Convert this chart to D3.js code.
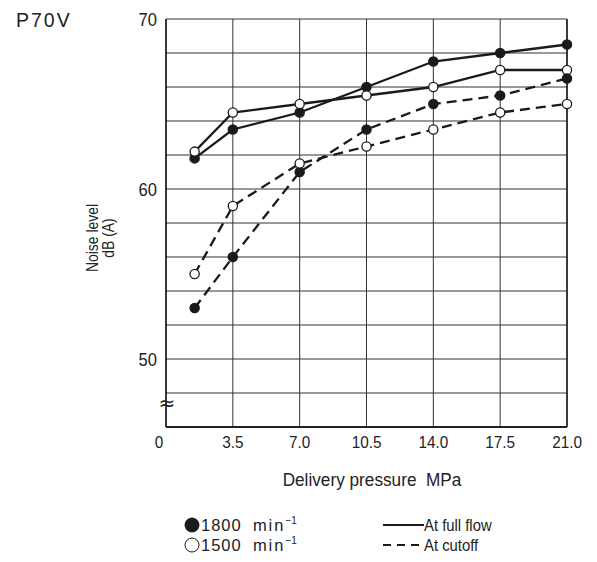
<!DOCTYPE html>
<html><head><meta charset="utf-8">
<script src="https://cdn.jsdelivr.net/npm/d3@7"></script>
<style>
body{margin:0;background:#fff;}
text{fill:#222;}
</style></head>
<body>
<svg id="c" width="597" height="562"></svg>
<script>
const pressures = [1.5, 3.5, 7.0, 10.5, 14.0, 17.5, 21.0];
const full1800 = [61.8, 63.5, 64.5, 66.0, 67.5, 68.0, 68.5];
const full1500 = [62.2, 64.5, 65.0, 65.5, 66.0, 67.0, 67.0];
const cut1800 = [53.0, 56.0, 61.0, 63.5, 65.0, 65.5, 66.5];
const cut1500 = [55.0, 59.0, 61.5, 62.5, 63.5, 64.5, 65.0];
const xTicks = [0, 3.5, 7.0, 10.5, 14.0, 17.5, 21.0];
const xTickLabels = ["0", "3.5", "7.0", "10.5", "14.0", "17.5", "21.0"];
const yGrid = [48, 50, 52, 54, 56, 58, 60, 62, 64, 66, 68, 70];
const yTickLabels = [50, 60, 70];
const speedLabels = ["1800", "1500"];
const lineLabels = ["At full flow", "At cutoff"];

const series = [
  {vals: full1800, filled: true, dash: null},
  {vals: full1500, filled: false, dash: null},
  {vals: cut1800, filled: true, dash: "10,6"},
  {vals: cut1500, filled: false, dash: "10,6"}
];

const svg = d3.select("#c");
const x = d3.scaleLinear().domain([0, 21]).range([166, 567]);
const y = d3.scaleLinear().domain([46, 70]).range([427, 19]);
const sans = "'Liberation Sans',Arial,sans-serif";

function ctext(px, py, str, size, sx, anchor, rot) {
  return svg.append("text")
    .attr("transform", `translate(${px},${py})` + (rot ? ` rotate(${rot})` : "") + ` scale(${sx},1)`)
    .attr("font-family", sans).attr("font-size", size)
    .attr("text-anchor", anchor || "start").attr("xml:space", "preserve")
    .text(str);
}

// grid
const g = svg.append("g");
g.selectAll("line.h").data(yGrid).join("line")
  .attr("x1", x(0)).attr("x2", x(21)).attr("y1", d=>y(d)).attr("y2", d=>y(d))
  .attr("stroke", "#333").attr("stroke-width", 1);
g.selectAll("line.v").data(xTicks.slice(1)).join("line")
  .attr("x1", d=>x(d)).attr("x2", d=>x(d)).attr("y1", y(70)).attr("y2", y(46))
  .attr("stroke", "#333").attr("stroke-width", 1);
g.append("line").attr("x1", x(0)).attr("x2", x(0)).attr("y1", y(70)).attr("y2", y(46)).attr("stroke", "#222").attr("stroke-width", 1.8);
g.append("line").attr("x1", x(0)).attr("x2", x(21)).attr("y1", y(46)).attr("y2", y(46)).attr("stroke", "#222").attr("stroke-width", 1.8);
g.append("line").attr("x1", x(21)).attr("x2", x(21)).attr("y1", y(70)).attr("y2", y(46)).attr("stroke", "#222").attr("stroke-width", 1.6);

// break mark
svg.append("text").attr("x", x(0)+1).attr("y", y(47.3)).attr("text-anchor", "middle")
  .attr("dominant-baseline", "middle").attr("font-family", "DejaVu Sans").attr("font-size", 20)
  .text("≈");

// tick labels
xTicks.forEach((d,i)=>{
  ctext(x(d) + (i===0 ? -7 : 0), 448, xTickLabels[i], 17, 0.9, "middle");
});
yTickLabels.forEach(d=>{
  ctext(157, y(d)+7, String(d), 18, 0.92, "end");
});

// axis titles
ctext(372, 486, "Delivery pressure  MPa", 18.5, 0.93, "middle");
ctext(98, 238, "Noise level", 17, 0.82, "middle", -90);
ctext(114, 238, "dB (A)", 17, 0.82, "middle", -90);

// title
svg.append("text").attr("x", 16).attr("y", 27).attr("font-family", sans)
  .attr("font-size", 19.5).attr("letter-spacing", 2).text("P70V");

// lines
const line = d3.line().x((d,i)=>x(pressures[i])).y(d=>y(d));
series.forEach(s=>{
  svg.append("path").attr("d", line(s.vals)).attr("fill", "none")
    .attr("stroke", "#1a1a1a").attr("stroke-width", 2.3)
    .attr("stroke-dasharray", s.dash);
});
series.forEach(s=>{
  svg.append("g").selectAll("circle").data(s.vals).join("circle")
    .attr("cx", (d,i)=>x(pressures[i])).attr("cy", d=>y(d)).attr("r", 4.6)
    .attr("fill", s.filled ? "#1a1a1a" : "#fff").attr("stroke", "#1a1a1a").attr("stroke-width", 1.3);
});

// legend
const rows = [525, 545];
speedLabels.forEach((lab,i)=>{
  svg.append("circle").attr("cx", 192).attr("cy", rows[i]).attr("r", 7)
    .attr("fill", i===0 ? "#1a1a1a" : "#fff").attr("stroke", "#1a1a1a").attr("stroke-width", 1);
  const t = svg.append("text").attr("x", 201).attr("y", rows[i]+6)
    .attr("font-family", sans).attr("font-size", 16.5).attr("xml:space","preserve");
  t.append("tspan").attr("letter-spacing", 1).text(lab + "  ");
  t.append("tspan").attr("letter-spacing", 2).text("min");
  t.append("tspan").attr("dy", -7).attr("font-size", 10).text("−1");
});
lineLabels.forEach((lab,i)=>{
  svg.append("line").attr("x1", 383).attr("x2", 424).attr("y1", rows[i]).attr("y2", rows[i])
    .attr("stroke", "#1a1a1a").attr("stroke-width", 2).attr("stroke-dasharray", i===0 ? null : "8,6");
  ctext(424, rows[i]+6, lab, 16.5, 0.9, "start");
});
</script>
</body></html>
